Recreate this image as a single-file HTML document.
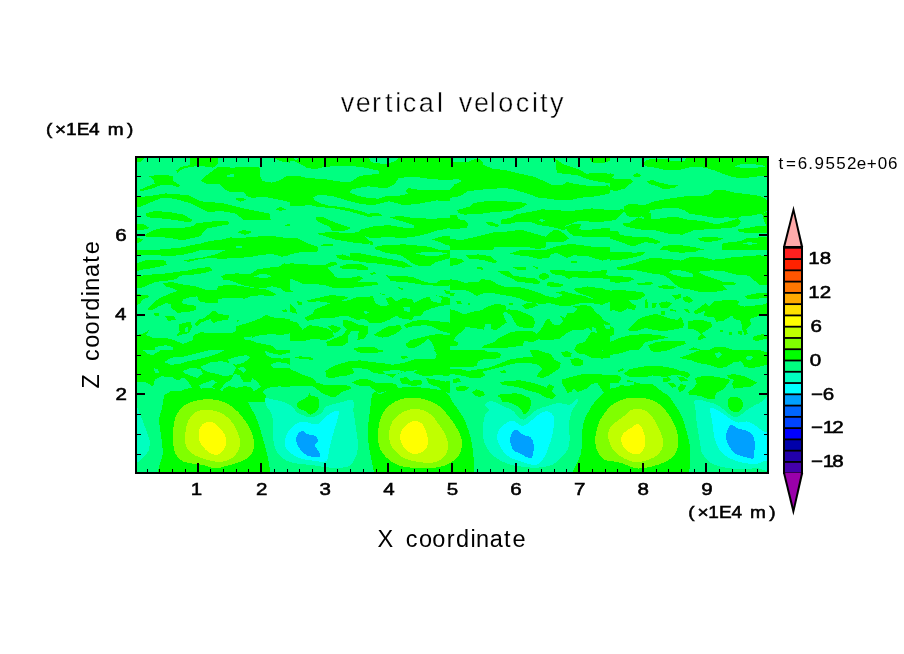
<!DOCTYPE html>
<html lang="en"><head><meta charset="utf-8"><title>vertical velocity</title>
<style>html,body{margin:0;padding:0;background:#fff;}body{width:904px;height:654px;overflow:hidden;}svg{display:block;}text{font-family:"Liberation Sans",sans-serif;fill:#000;}</style>
</head><body>
<svg width="904" height="654" viewBox="0 0 904 654">
<rect width="904" height="654" fill="#fff"/>
<defs><clipPath id="pc"><rect x="136" y="157" width="632" height="316"/></clipPath></defs>
<g clip-path="url(#pc)" shape-rendering="crispEdges">
<rect x="136" y="157" width="632" height="316" fill="#00ff80"/>
<defs><clipPath id="t1"><rect x="130" y="150" width="160" height="100"/></clipPath><clipPath id="t2"><rect x="290" y="150" width="160" height="100"/></clipPath><clipPath id="t3"><rect x="450" y="150" width="160" height="100"/></clipPath><clipPath id="t4"><rect x="610" y="150" width="160" height="100"/></clipPath><clipPath id="t5"><rect x="130" y="250" width="160" height="100"/></clipPath><clipPath id="t6"><rect x="290" y="250" width="160" height="100"/></clipPath><clipPath id="t7"><rect x="450" y="250" width="160" height="100"/></clipPath><clipPath id="t8"><rect x="610" y="250" width="160" height="100"/></clipPath><clipPath id="t9"><rect x="130" y="350" width="160" height="52"/></clipPath><clipPath id="t10"><rect x="290" y="350" width="160" height="52"/></clipPath><clipPath id="t11"><rect x="450" y="350" width="160" height="52"/></clipPath><clipPath id="t12"><rect x="610" y="350" width="160" height="52"/></clipPath></defs>
<g clip-path="url(#t1)">
<path fill="#00ff00" d="M136.7,158.0 145.0,158.0 140.6,161.5 136.7,162.7ZM190.2,158.0 218.5,158.0 217.6,164.2 213.2,167.7 200.8,165.9 191.1,166.8 183.1,168.6 176.9,173.0 176.4,170.4 181.3,166.8 190.2,165.0ZM200.8,181.0 205.2,176.5 213.2,170.4 218.5,166.8 232.7,167.7 243.3,166.8 253.9,166.8 260.1,167.7 260.1,176.5 262.7,181.0 271.6,182.7 280.4,180.1 285.8,176.5 290.0,175.7 290.0,202.2 282.2,200.4 264.5,196.9 252.1,197.8 246.8,196.0 243.3,191.6 229.1,191.6 225.6,189.8 220.3,184.5 206.1,183.6Z"/>
<path fill="#00ff80" d="M227.3,174.8 234.4,173.9 234.4,177.4 227.3,177.4Z"/>
<path fill="#00ff00" d="M273.4,158.0 290.0,158.0 290.0,162.7 282.2,161.7ZM234.4,198.7 240.6,197.8 246.8,199.2 240.6,201.7ZM149.5,176.5 156.5,174.8 172.5,175.7 173.4,181.0 180.4,185.4 177.8,187.2 170.7,184.5 160.1,185.4 153.0,188.1 140.6,191.6 139.7,189.8 147.7,186.3 154.8,183.6 153.0,179.2ZM136.7,196.9 147.7,196.4 165.4,193.4 188.4,195.1 200.8,201.3 222.0,203.1 243.3,208.4 257.4,211.1 269.8,213.7 270.7,219.9 243.3,219.9 236.2,213.7 222.0,211.1 207.9,211.9 200.8,208.4 190.2,203.1 174.2,198.7 161.9,197.8 151.2,202.2 140.6,206.6 136.7,207.5ZM145.0,213.7 154.8,211.1 168.9,211.9 183.1,214.6 192.8,219.9 190.2,222.6 174.2,219.9 158.3,218.1 147.7,217.3ZM136.7,223.5 144.2,224.3 149.5,227.9 144.2,229.6 136.7,230.5ZM196.4,223.5 207.9,221.7 228.2,220.8 229.1,224.3 218.5,226.1 206.1,228.8 202.6,233.2 200.8,235.8 196.4,237.3 190.2,238.5 183.1,240.3 169.8,238.0 156.5,236.7 147.7,237.1 145.0,235.8 147.7,233.2 153.0,230.5 161.9,227.9 183.1,227.9 193.7,226.1ZM237.1,232.3 243.3,230.0 253.0,231.8 245.0,235.0ZM136.7,237.6 143.3,239.4 138.8,242.9 136.7,243.8ZM140.6,250.2 156.5,249.8 169.8,248.6 183.1,247.3 193.7,244.7 200.8,243.5 208.2,241.3 222.9,239.4 230.9,237.3 236.2,238.5 253.9,236.7 271.6,235.8 290.0,238.5 290.0,250.2Z"/>
<path fill="#00ff80" d="M234.4,247.0 238.8,245.6 243.3,247.0 238.8,248.4Z"/>
<path fill="#00ff00" d="M275.1,209.3 280.4,207.0 286.6,209.3 280.4,211.1ZM283.1,225.2 290.0,224.0 290.0,226.5Z"/>
</g>
<g clip-path="url(#t2)">
<rect x="290" y="150" width="160" height="100" fill="#00ff00"/>
<path fill="#00ff80" d="M290.0,160.6 295.3,161.5 306.8,167.7 314.8,169.1 325.4,166.8 343.1,165.6 360.8,166.8 379.4,170.9 378.5,173.9 360.8,175.7 356.4,178.0 351.1,181.5 339.6,181.5 325.4,179.2 307.7,178.0 297.1,175.7 290.0,175.7ZM293.5,158.0 298.8,158.0 296.2,160.3ZM368.8,158.0 398.3,158.0 394.4,161.5 386.5,163.8 375.0,163.3 370.5,161.0ZM349.3,192.1 351.9,189.3 360.8,187.5 367.9,186.3 378.5,187.5 387.3,188.1 394.4,184.5 397.1,180.4 398.8,178.0 413.9,176.5 431.6,179.2 450.0,180.1 450.0,189.8 431.6,190.4 419.2,189.8 408.6,188.1 405.9,191.1 408.2,193.9 396.2,196.4 385.6,196.4 378.5,198.7 367.9,197.8 357.3,195.7ZM313.0,197.4 318.3,195.1 330.7,195.7 341.3,198.7 350.2,201.3 360.8,204.0 373.2,205.2 382.0,203.1 389.1,201.3 396.2,203.1 403.3,205.2 417.4,204.0 431.6,201.3 436.9,200.4 450.0,201.3 450.0,235.0 431.6,233.2 413.9,227.9 403.3,227.5 389.1,225.2 375.0,226.1 360.8,229.6 358.1,232.3 344.9,233.2 332.5,231.8 321.9,232.8 314.8,234.1 307.7,236.7 297.1,237.6 290.0,238.5 290.0,206.3 311.2,205.2 314.8,200.4Z"/>
<path fill="#00ff00" d="M311.2,205.2 316.5,206.6 334.2,208.4 348.4,211.1 360.8,214.6 367.9,216.9 382.0,215.5 378.5,212.8 367.9,213.7 360.8,211.1 343.1,207.0 328.9,205.8 320.1,203.1 314.8,200.4ZM316.2,216.9 321.9,216.5 330.7,220.8 343.1,225.2 351.1,227.9 348.4,229.3 343.1,231.1 332.5,231.4 329.3,226.5 320.4,222.9 315.7,219.7ZM389.1,217.3 399.7,215.8 413.9,218.1 431.6,218.7 450.0,218.1 450.0,227.9 442.2,229.6 431.6,233.2 422.7,235.8 413.9,227.9 413.9,225.2 403.3,221.7 394.4,219.0Z"/>
<path fill="#00ff80" d="M290.0,237.6 297.1,237.6 307.7,236.7 314.8,233.5 321.9,235.3 336.0,239.7 351.9,242.4 367.9,244.2 371.4,242.4 364.3,236.2 371.4,238.0 389.1,237.1 403.3,238.0 417.4,236.2 428.1,233.5 436.9,230.5 450.0,229.6 450.0,250.2 318.3,250.2 318.3,246.8 307.7,243.3 297.1,238.0Z"/>
<path fill="#00ff00" d="M374.6,248.2 375.3,247.0 384.2,244.9 396.5,244.9 403.6,244.2 412.5,245.2 424.9,246.1 433.7,247.9 440.4,250.2 378.5,250.2 375.3,249.3ZM431.9,239.6 437.3,237.8 443.5,236.0 450.0,235.5 450.0,245.8 446.1,244.9 440.8,242.6 435.5,240.8ZM370.0,240.8 372.7,242.0 372.7,244.9 370.0,244.9ZM320.1,244.7 332.5,243.8 332.5,245.9 321.9,246.5Z"/>
</g>
<g clip-path="url(#t3)">
<path fill="#00ff00" d="M450.0,158.0 451.8,158.0 453.5,161.5 467.7,162.4 473.0,159.7 478.3,158.5 481.9,161.0 483.6,165.0 492.5,168.6 506.6,170.4 520.8,173.9 533.2,176.5 543.8,181.0 552.7,185.4 563.3,184.5 566.8,181.9 573.9,183.6 584.5,185.4 596.9,186.3 607.5,185.4 610.0,187.2 610.0,193.4 602.2,195.1 591.6,196.9 579.2,197.8 570.4,200.4 559.7,200.4 549.1,198.7 538.5,197.8 529.6,194.2 520.8,191.6 511.9,188.9 503.1,188.1 485.4,189.3 467.7,191.1 460.6,196.0 450.0,197.8 450.0,189.8 454.4,184.5 462.4,181.0 457.1,178.7 450.0,180.1ZM551.8,158.8 556.2,161.0 556.2,168.6 557.1,173.0 565.0,173.9 577.4,175.1 586.6,178.8 595.1,181.0 605.8,182.6 610.0,182.9 610.0,173.9 600.4,172.7 586.6,173.7 579.9,170.0 573.9,167.7 570.4,166.8 563.3,164.2 558.0,160.6 554.4,158.0ZM589.8,158.0 610.0,158.0 610.0,161.0 602.2,163.3 591.6,162.4ZM457.1,210.2 469.5,206.6 473.0,203.1 485.4,201.3 503.1,201.3 520.8,202.2 527.9,204.0 520.8,208.4 510.2,211.1 494.2,211.9 478.3,214.1 464.2,214.6 458.0,212.8ZM450.0,215.5 457.1,215.1 458.0,219.0 465.9,220.8 468.1,224.3 466.8,227.9 457.1,228.8 450.0,228.8ZM485.0,221.7 490.7,221.7 499.6,225.2 497.8,227.0 488.9,225.2ZM500.4,220.8 503.1,219.0 510.2,218.1 515.5,214.6 524.3,212.8 535.0,211.1 542.0,209.3 556.2,210.2 570.4,211.1 584.5,209.3 591.6,208.4 602.2,209.3 610.0,210.2 610.0,220.8 602.2,221.7 591.6,221.7 579.2,220.8 573.9,222.6 565.0,226.1 566.8,228.8 563.3,230.5 556.2,227.9 547.3,226.1 538.5,225.2 533.2,222.6 524.3,221.7 517.3,221.7 508.4,224.3 501.3,224.3Z"/>
<path fill="#00ff80" d="M537.6,219.9 542.0,219.0 545.6,220.4 542.0,221.9Z"/>
<path fill="#00ff00" d="M565.0,227.0 573.9,223.5 581.0,224.3 579.2,228.8 584.5,230.5 596.9,228.8 610.0,227.9 610.0,236.7 598.7,236.7 584.5,236.7 573.9,235.8 568.6,232.3ZM450.0,238.5 460.6,240.3 476.5,236.7 494.2,232.3 508.4,231.4 520.8,229.6 533.2,233.2 545.6,236.7 552.7,230.5 558.0,229.6 563.3,233.2 568.6,238.5 563.3,242.0 545.6,242.0 545.6,247.3 538.5,249.1 524.3,246.5 508.4,246.5 494.2,246.5 493.4,250.0 450.0,250.0ZM545.6,250.0 556.2,246.5 570.4,243.8 584.5,245.6 596.9,247.3 610.0,246.5 610.0,250.0Z"/>
</g>
<g clip-path="url(#t4)">
<path fill="#00ff00" d="M642.7,164.2 645.4,160.6 652.5,158.5 668.4,158.5 670.2,161.5 684.3,161.0 686.1,158.0 766.6,158.0 766.6,176.2 756.9,176.5 744.5,178.0 733.9,177.4 723.3,173.9 714.4,170.4 705.6,167.7 695.0,166.8 687.9,167.7 677.3,170.4 666.6,170.4 656.0,167.7 647.2,166.8Z"/>
<path fill="#00ff80" d="M733.9,166.3 741.0,164.2 751.6,163.8 764.0,165.6 765.8,167.3 751.6,167.7 741.0,167.7Z"/>
<path fill="#00ff00" d="M610.0,173.0 614.4,174.8 611.8,178.3 620.6,179.2 631.2,179.2 633.0,181.9 627.7,185.4 625.9,188.1 617.1,190.7 610.0,190.4ZM633.0,174.8 636.5,173.0 641.0,174.8 639.2,177.4 634.8,177.4ZM646.3,181.0 652.5,180.1 659.6,182.7 668.4,184.5 678.1,185.4 673.7,188.1 663.1,189.3 657.8,186.3 650.7,184.5ZM624.2,206.6 629.5,204.0 645.4,204.9 654.2,201.3 668.4,198.7 684.3,196.4 698.5,196.4 710.9,194.2 714.4,189.8 723.3,189.8 733.9,192.5 748.1,194.2 760.4,196.0 766.6,199.6 766.6,211.1 762.2,213.7 751.6,215.5 741.0,216.4 737.4,218.1 726.8,217.3 716.2,218.1 702.0,215.5 689.6,213.7 684.3,210.2 677.3,208.1 663.1,208.4 650.7,210.2 648.1,213.7 649.8,218.1 641.9,216.4 634.8,217.3 627.7,216.4 624.2,211.1ZM622.4,222.6 629.5,222.6 638.3,217.3 645.4,219.9 656.0,219.0 668.4,217.3 677.3,216.9 687.9,219.9 702.0,220.8 716.2,224.3 723.3,222.6 733.9,219.9 737.4,218.1 741.0,221.7 737.4,226.1 730.4,227.9 716.2,228.8 702.0,229.6 693.2,230.5 682.6,234.6 670.2,234.1 656.0,230.5 641.9,229.6 631.2,227.9 624.2,226.1ZM643.6,213.7 650.7,212.8 650.7,219.9 643.6,219.9ZM737.4,229.6 748.1,227.9 756.9,226.1 766.6,226.5 766.6,233.2 756.9,233.2 746.3,232.8 739.2,231.8ZM762.2,213.7 766.6,211.9 766.6,226.5 764.0,220.8ZM610.0,210.2 622.4,209.3 624.2,211.1 615.3,219.9 610.0,220.8ZM610.0,230.5 617.1,230.5 620.6,235.0 633.0,236.7 650.7,237.6 661.3,242.0 656.0,243.8 645.4,242.0 633.0,246.5 620.6,242.0 610.0,238.5ZM659.6,250.0 663.1,246.5 671.9,244.7 684.3,245.6 695.0,247.3 705.6,250.0ZM698.5,238.5 705.6,236.7 716.2,237.1 723.3,238.5 716.2,241.2 705.6,242.0 700.3,240.6ZM721.5,243.8 730.4,242.0 741.0,241.2 746.3,238.5 756.9,237.6 766.6,236.7 766.6,250.0 721.5,250.0Z"/>
<path fill="#00ff80" d="M742.7,243.5 749.8,242.0 756.9,243.5 749.8,244.9Z"/>
</g>
<g clip-path="url(#t5)">
<path fill="#00ff00" d="M136.7,250.0 290.0,250.0 290.0,255.0 282.2,256.7 271.6,253.9 261.0,255.0 250.4,257.1 236.2,258.0 222.0,258.8 207.9,258.0 197.3,259.7 188.4,262.0 181.3,259.7 174.2,256.2 156.5,255.3 140.6,255.3 136.7,256.2Z"/>
<path fill="#00ff80" d="M173.7,255.8 183.1,254.6 192.3,252.7 199.0,250.5 209.6,250.0 226.8,250.0 222.9,251.2 215.0,254.6 204.3,257.3 192.3,258.8 187.0,260.1 180.4,260.6 175.8,258.0Z"/>
<path fill="#00ff00" d="M136.7,263.3 147.7,259.7 165.4,260.6 166.8,265.0 158.3,266.8 149.5,268.6 140.6,269.8 136.7,271.2ZM136.7,276.5 147.7,274.8 161.9,273.9 176.0,272.1 188.4,270.4 200.8,267.7 209.6,267.3 212.3,270.4 204.3,273.0 191.9,274.8 179.6,275.7 176.0,279.2 165.4,281.0 154.8,281.9 147.7,285.4 140.6,288.1 136.7,288.1ZM221.2,276.5 225.6,274.4 236.2,273.4 250.4,273.9 257.4,269.5 268.1,267.7 278.7,266.8 284.0,263.3 290.0,264.2 290.0,291.6 285.8,292.5 280.4,288.1 271.6,286.3 264.5,288.1 253.9,287.5 243.3,285.4 236.2,282.7 229.1,280.1 223.8,280.1Z"/>
<path fill="#00ff80" d="M253.9,276.5 261.0,273.9 269.8,274.8 271.6,276.9 262.7,278.3Z"/>
<path fill="#00ff00" d="M162.7,283.6 170.7,281.9 183.1,284.5 195.5,286.3 206.1,289.8 216.7,289.8 218.5,286.3 229.1,284.5 243.3,286.3 253.9,288.1 264.5,288.9 271.6,291.6 276.9,294.2 271.6,296.4 261.0,295.1 250.4,296.4 245.0,298.7 236.2,297.8 218.5,298.7 217.6,303.1 207.9,303.1 199.0,301.3 197.3,296.4 190.2,296.9 183.1,299.6 181.3,303.1 188.4,304.9 196.4,305.8 195.5,310.2 188.4,311.9 177.8,312.8 171.6,308.4 170.7,304.0 165.4,303.1 158.3,306.6 151.2,310.2 147.7,309.3 153.0,303.1 160.1,297.8 170.7,293.4 177.8,290.7 172.5,288.1 165.4,286.3ZM136.7,294.2 147.7,295.1 149.5,296.9 142.4,299.6 140.6,303.1 136.7,304.9ZM165.4,316.4 174.2,315.8 176.0,319.9 168.1,320.8ZM153.0,313.7 158.3,312.8 159.2,315.5 154.8,315.8ZM194.6,324.3 198.1,319.9 204.3,318.1 210.5,312.8 214.1,310.2 218.5,313.7 229.1,315.5 228.2,319.9 218.5,320.8 213.2,323.5 210.5,319.0 207.9,319.9 200.8,322.6 197.3,326.1ZM178.7,324.3 184.9,322.6 191.1,321.7 191.9,327.9 188.4,333.2 183.1,334.1 176.0,336.7 179.6,331.4Z"/>
<path fill="#00ff80" d="M185.2,327.9 188.1,327.0 187.7,332.3 185.2,332.3Z"/>
<path fill="#00ff00" d="M136.7,335.0 144.2,333.2 149.5,329.6 145.9,335.0 154.8,338.5 165.4,337.6 174.2,340.3 183.1,343.8 192.8,340.3 193.7,335.0 200.8,332.3 213.2,333.2 225.6,333.2 235.3,332.3 236.2,326.1 243.3,324.3 253.9,320.8 261.0,318.1 266.3,314.6 271.6,317.3 280.4,318.1 290.0,319.0 290.0,333.2 282.2,335.0 271.6,334.1 261.0,335.0 253.9,336.7 250.4,340.3 257.4,342.9 271.6,345.6 276.9,350.0 136.7,350.0Z"/>
<path fill="#00ff80" d="M243.3,337.1 252.1,336.4 252.1,340.3 245.0,340.3ZM154.8,347.0 165.4,345.2 172.5,347.0 172.5,350.0 154.8,350.0Z"/>
<path fill="#00ff00" d="M282.2,310.2 285.8,309.3 287.5,311.9 283.1,311.9ZM236.2,319.9 238.8,319.9 238.0,322.6Z"/>
</g>
<g clip-path="url(#t6)">
<path fill="#00ff00" d="M290.0,263.3 300.6,263.8 313.0,265.0 325.4,265.0 330.7,262.4 336.0,262.0 337.8,264.2 327.2,267.7 330.7,271.2 336.0,277.4 348.4,278.3 359.0,276.2 363.5,278.3 357.3,281.9 367.9,281.5 376.7,281.9 378.5,284.5 366.1,286.3 348.4,288.1 334.2,288.1 325.4,285.4 313.0,283.6 304.2,284.5 298.8,281.9 290.0,278.3ZM336.0,255.3 343.1,254.4 350.2,257.1 350.2,252.7 360.8,253.5 375.0,256.2 389.1,258.8 403.3,261.5 412.1,266.8 403.3,267.7 389.1,265.0 375.0,263.3 364.3,262.4 353.7,260.6 343.1,259.7 337.8,258.0ZM378.5,250.0 385.9,252.8 400.1,255.0 405.4,258.1 411.6,262.6 416.0,265.2 423.1,266.5 431.1,265.6 434.6,262.6 440.8,260.8 450.0,258.1 450.0,250.0Z"/>
<path fill="#00ff80" d="M416.0,253.5 424.5,251.9 438.7,251.9 447.0,253.5 438.7,255.5 424.5,255.5Z"/>
<path fill="#00ff00" d="M290.0,250.0 318.3,250.0 316.5,251.8 300.6,252.1 290.0,254.4ZM338.7,266.8 346.6,264.2 360.8,263.8 367.9,267.7 367.9,270.4 357.3,269.5 343.1,269.1ZM369.6,273.0 375.0,272.1 376.7,273.9 371.4,274.8ZM385.6,274.8 390.9,276.5 403.3,275.7 413.9,277.4 424.5,281.9 435.1,283.6 440.4,280.1 450.0,280.1 450.0,285.4 440.4,286.3 431.6,285.4 421.0,284.5 410.4,282.7 399.7,281.9 390.9,281.0ZM306.8,300.4 318.3,297.8 330.7,295.1 343.1,296.0 348.4,297.8 339.6,301.3 348.4,300.4 357.3,296.9 373.2,296.4 375.0,303.1 382.0,306.6 389.1,304.9 385.6,298.7 390.9,296.9 396.2,301.3 403.3,297.8 412.1,299.6 413.9,303.1 424.5,297.8 429.8,296.9 431.6,301.3 440.4,303.1 442.2,297.8 435.1,295.1 442.2,296.4 450.0,297.8 450.0,304.9 440.4,305.8 431.6,308.4 424.5,311.1 421.0,315.5 413.9,316.4 412.1,319.9 399.7,318.1 396.2,315.5 389.1,319.9 382.0,322.6 369.6,322.6 364.3,319.0 357.3,319.9 348.4,316.4 339.6,316.4 332.5,318.1 321.9,318.1 307.7,320.8 304.2,318.1 313.0,313.7 314.8,309.3 321.9,306.6 330.7,303.1 318.3,301.3 309.5,302.2Z"/>
<path fill="#00ff80" d="M363.5,311.9 366.1,310.7 368.8,312.3 366.1,314.6ZM403.3,307.5 410.4,306.6 409.5,311.9 404.2,311.1Z"/>
<path fill="#00ff00" d="M290.0,303.1 295.3,308.4 297.1,313.7 290.0,311.9ZM297.1,301.3 301.5,301.7 302.4,304.9 298.0,305.2ZM290.0,320.8 297.1,322.6 302.4,329.6 309.5,325.2 316.5,326.1 325.4,327.9 332.5,331.4 334.2,336.7 325.4,340.3 313.0,338.5 304.2,341.2 290.0,341.2ZM343.1,319.9 350.2,320.8 357.3,324.3 367.9,326.1 367.9,333.2 364.3,338.5 357.3,340.3 358.1,335.0 359.0,330.5 351.9,330.5 348.4,335.0 348.4,342.0 343.1,345.6 327.2,345.6 326.3,342.0 334.2,338.5 343.1,335.0 346.6,329.6 343.1,326.1ZM328.1,326.1 332.5,325.2 341.3,327.9 337.8,331.4 334.2,333.2ZM373.2,335.0 382.0,329.6 389.1,326.1 399.7,325.2 402.4,328.8 396.2,333.2 389.1,336.7 382.0,337.6ZM403.3,325.2 413.9,320.8 424.5,319.9 431.6,320.8 442.2,321.7 450.0,322.6 450.0,333.2 442.2,331.4 431.6,326.1 424.5,325.2 413.9,326.1 406.8,327.9ZM405.9,343.8 410.4,340.3 417.4,338.5 424.5,336.7 431.6,335.0 436.9,334.1 450.0,335.0 450.0,350.0 435.1,350.0 431.6,342.0 428.1,338.5 424.5,342.0 419.2,345.6 413.9,348.2 406.8,347.3ZM353.7,348.2 364.3,346.5 375.0,347.3 378.5,350.0 353.7,350.0ZM290.0,289.8 293.5,291.6 290.0,292.5ZM398.0,287.2 403.3,288.1 403.3,290.4 398.8,288.9ZM379.4,293.4 385.6,293.9 383.8,295.1ZM444.0,289.8 450.0,291.6 450.0,294.2 445.8,293.4Z"/>
</g>
<g clip-path="url(#t7)">
<path fill="#00ff00" d="M450.0,258.0 460.6,258.8 464.2,261.5 457.1,265.0 450.0,265.9ZM465.9,255.3 478.3,254.4 490.7,256.2 497.8,262.4 492.5,262.7 481.9,259.7 469.5,258.8ZM510.2,253.5 520.8,250.0 610.0,250.0 610.0,258.8 602.2,260.6 588.1,256.2 573.9,255.3 566.8,258.0 556.2,252.7 550.9,254.4 549.1,258.0 538.5,258.8 527.9,256.2 517.3,255.3ZM476.5,266.8 483.6,267.7 482.7,269.8 476.5,268.6ZM511.1,266.8 526.1,267.3 526.1,270.4 517.3,269.8ZM532.3,266.3 538.5,266.8 537.6,269.1ZM571.2,261.0 577.4,261.0 577.4,262.7 571.2,262.7ZM497.8,271.2 508.4,270.9 513.7,275.7 524.3,277.4 535.0,278.3 540.3,281.9 538.5,284.5 527.9,282.7 517.3,281.9 511.9,278.3 503.1,274.8ZM539.4,274.8 542.9,273.0 548.2,273.9 549.1,277.4 543.8,280.1 539.4,278.3ZM549.1,269.5 563.3,270.4 573.9,271.2 591.6,271.6 602.2,270.4 607.5,270.4 605.8,274.8 610.0,276.5 610.0,279.2 600.4,278.3 591.6,278.3 581.0,278.3 573.9,276.5 568.6,279.2 563.3,275.7 556.2,274.8 550.9,273.0ZM450.0,279.2 457.1,280.1 464.2,282.7 478.3,281.9 481.9,279.2 490.7,280.1 497.8,284.5 506.6,287.2 520.8,287.5 527.9,289.3 538.5,292.5 545.6,296.0 556.2,297.8 563.3,295.1 556.2,292.5 563.3,291.1 573.9,294.2 584.5,296.0 591.6,298.7 600.4,300.4 605.8,303.1 602.2,304.9 591.6,303.1 581.0,303.1 573.9,304.9 565.0,306.6 556.2,304.9 549.1,303.1 542.0,304.0 535.0,303.1 526.1,301.3 520.8,298.7 511.9,296.4 503.1,295.1 494.2,293.4 485.4,292.5 476.5,296.0 471.2,292.5 464.2,289.8 457.1,289.8 450.0,289.8ZM546.5,282.7 550.9,281.9 563.3,284.5 563.3,286.3 552.7,287.2 546.5,285.4ZM573.9,289.3 586.3,286.6 595.1,288.2 605.8,290.5 610.0,290.0 610.0,301.3 605.8,303.5 596.9,300.4 587.5,296.0 579.9,293.5 575.3,291.2ZM573.9,288.1 581.0,287.5 584.5,289.8 577.4,290.4ZM586.3,286.3 591.6,287.2 602.2,288.1 605.8,289.8 602.2,291.6 591.6,289.8ZM595.1,292.5 600.4,292.5 602.2,295.1 596.9,295.1ZM450.0,309.3 457.1,311.1 464.2,314.6 471.2,311.9 481.9,310.2 487.2,306.6 496.0,304.0 504.9,304.9 506.6,309.3 503.1,313.7 504.9,319.0 506.6,322.6 501.3,326.1 496.0,330.5 490.7,328.8 491.6,323.5 485.4,324.3 483.6,329.6 473.0,327.9 465.9,327.0 462.4,331.4 457.1,335.0 453.5,340.3 458.8,342.9 457.1,345.6 450.0,345.6ZM508.4,309.3 517.3,310.2 524.3,312.8 533.2,317.3 535.0,322.6 533.2,327.9 524.3,327.9 517.3,326.1 513.7,320.8 511.1,315.5 504.9,311.1ZM521.7,305.8 527.9,302.7 535.0,303.1 538.5,305.2 533.2,307.5 526.1,309.3ZM545.6,320.8 549.1,318.1 552.7,324.3 559.7,325.2 563.3,320.8 559.7,315.5 565.0,318.1 567.7,312.8 573.9,312.8 577.4,308.4 572.1,306.6 584.5,304.9 591.6,306.6 595.1,311.9 600.4,315.5 604.0,320.8 610.0,323.5 610.0,350.0 573.9,350.0 577.4,343.8 584.5,342.0 588.1,336.7 591.6,331.4 588.1,327.9 581.0,330.5 573.9,329.6 566.8,333.2 559.7,338.5 549.1,340.3 538.5,339.4 533.2,342.0 524.3,341.2 522.6,345.6 503.1,348.2 481.9,348.2 483.6,345.6 494.2,342.0 499.6,337.6 510.2,332.3 520.8,330.5 533.2,331.4 536.7,334.1 542.0,327.9 543.8,324.3Z"/>
<path fill="#00ff80" d="M591.6,327.0 596.0,327.9 596.9,333.2 592.5,331.8ZM604.0,324.3 610.0,325.2 610.0,329.6 605.8,328.8Z"/>
<path fill="#00ff00" d="M456.2,301.3 460.6,301.3 462.4,304.0 457.1,304.0ZM467.7,303.1 469.8,303.1 469.8,304.9 467.7,304.9ZM509.3,303.1 512.8,303.1 512.8,304.9 509.3,304.9ZM450.0,293.4 455.3,292.5 453.5,296.0 450.0,296.4Z"/>
</g>
<g clip-path="url(#t8)">
<path fill="#00ff00" d="M610.0,251.8 620.6,251.8 634.8,252.7 645.4,251.8 641.9,255.3 631.2,258.0 620.6,259.7 610.0,260.6ZM666.6,250.0 698.5,250.0 695.0,252.1 680.8,252.7 670.2,251.8ZM616.2,267.7 627.7,265.0 641.9,260.6 650.7,258.0 668.4,258.8 680.8,260.6 689.6,257.1 702.0,257.1 712.7,259.7 723.3,258.8 733.9,257.1 748.1,256.2 758.7,255.3 766.6,256.2 766.6,284.5 760.4,285.4 755.1,281.0 749.8,276.5 744.5,274.8 737.4,274.8 730.4,273.0 723.3,271.2 712.7,270.4 702.0,270.9 698.5,272.1 705.6,275.7 716.2,279.2 723.3,281.9 737.4,282.7 733.9,285.4 723.3,285.4 726.8,289.8 719.7,291.1 709.1,292.5 698.5,291.6 691.4,289.8 680.8,288.1 673.7,283.6 668.4,278.3 663.1,274.8 654.2,273.9 645.4,272.1 636.5,270.4 627.7,269.5 618.8,269.8Z"/>
<path fill="#00ff80" d="M668.4,272.1 673.7,269.8 684.3,270.9 693.2,273.9 693.2,276.5 680.8,276.5 673.7,274.8Z"/>
<path fill="#00ff00" d="M610.0,276.5 620.6,276.2 631.2,277.4 634.8,279.2 627.7,281.9 617.1,282.7 610.0,281.9ZM636.5,283.6 647.2,282.2 654.2,282.7 650.7,284.5 640.1,285.4ZM657.8,286.3 664.9,285.0 673.7,286.3 677.3,288.1 668.4,289.3 659.6,288.1ZM610.0,290.7 618.8,289.8 631.2,291.1 642.7,292.1 645.4,295.1 641.0,298.7 634.8,300.4 627.7,299.6 631.2,303.1 636.5,305.8 634.8,310.2 627.7,308.4 620.6,312.3 613.5,310.2 610.0,311.1ZM647.2,298.7 648.1,308.4 645.4,308.4 644.5,300.4ZM651.6,303.1 656.9,303.1 655.1,308.4 652.5,307.5ZM658.7,303.1 666.6,301.3 671.9,303.1 668.4,307.5 661.3,308.4ZM671.9,295.1 680.8,294.2 680.8,297.8 675.5,299.6ZM682.6,297.8 687.9,296.0 693.2,300.4 689.6,303.1 684.3,301.3ZM661.3,311.1 664.9,311.1 664.9,314.6 661.3,314.6ZM670.2,309.3 676.4,309.8 676.4,311.6 670.2,311.1ZM683.5,308.4 687.9,309.3 690.5,313.7 686.1,311.9ZM694.1,311.1 698.5,308.4 705.6,303.1 709.1,306.6 714.4,301.3 723.3,300.4 733.9,299.6 739.2,301.3 737.4,304.9 744.5,306.6 751.6,305.8 762.2,304.9 766.6,303.1 766.6,313.7 760.4,315.5 751.6,318.1 748.1,322.6 741.0,320.8 733.9,319.0 732.1,315.5 723.3,320.8 716.2,321.7 714.4,317.3 709.1,317.3 703.8,315.5 705.6,310.2 700.3,312.8 695.0,314.6ZM744.5,296.4 751.6,294.2 762.2,292.5 766.6,293.4 766.6,297.8 756.9,298.7 748.1,299.2ZM627.7,329.6 633.0,324.3 638.3,319.0 645.4,316.4 656.0,313.7 661.3,315.5 668.4,318.1 677.3,319.9 680.8,316.4 684.3,324.3 682.6,327.9 673.7,329.6 663.1,331.4 652.5,329.6 645.4,327.9 638.3,330.5 631.2,331.4ZM610.0,326.1 613.5,327.9 613.5,335.0 610.0,336.7ZM687.9,320.8 702.0,319.9 710.9,322.6 712.7,326.1 709.1,328.8 702.0,333.2 705.6,337.6 698.5,340.3 697.6,337.6 701.2,334.1 695.0,329.6 687.9,328.8ZM741.0,319.0 749.8,320.8 751.6,324.3 746.3,329.6 748.1,334.1 744.5,335.0 741.9,327.9ZM753.4,336.7 762.2,334.1 766.6,335.0 766.6,338.5 756.9,341.2 752.5,339.4ZM738.3,330.5 741.9,330.5 741.9,335.0 738.3,334.1ZM728.6,332.3 732.1,332.3 732.1,335.0 728.6,335.0ZM719.7,329.6 723.3,329.6 723.3,331.8 719.7,331.8ZM610.0,342.0 620.6,337.6 631.2,335.0 645.4,334.1 659.6,335.0 668.4,337.6 654.2,340.3 645.4,342.0 641.9,346.5 638.3,350.0 610.0,350.0ZM648.1,345.6 656.0,342.0 670.2,340.6 684.3,341.2 686.1,343.8 677.3,346.5 668.4,350.0 650.7,350.0ZM709.1,350.0 716.2,346.5 725.0,347.3 733.9,350.0ZM687.9,350.0 693.2,347.3 702.0,350.0Z"/>
</g>
<g clip-path="url(#t9)">
<rect x="130" y="350" width="160" height="52" fill="#00ff00"/>
<path fill="#00ff80" d="M136.7,345.3 144.2,344.4 151.2,346.2 156.5,345.3 163.6,344.4 165.4,348.0 160.1,350.6 153.0,355.0 147.7,354.2 144.2,350.6 136.7,349.7ZM164.5,362.1 170.7,357.7 183.1,356.8 190.2,355.0 200.8,352.4 211.4,349.7 222.0,347.1 229.1,346.2 225.6,349.7 218.5,353.3 207.9,356.8 197.3,359.5 188.4,361.2 179.6,363.9 170.7,364.8ZM174.2,340.0 191.9,340.0 188.4,343.5 181.3,344.4 176.0,342.7ZM264.5,350.6 271.6,353.3 280.4,355.0 290.0,352.4 290.0,357.7 282.2,358.6 271.6,357.7 266.3,355.0ZM228.2,359.5 236.2,356.8 246.8,355.0 250.4,357.7 243.3,363.0 236.2,364.8 229.1,363.0ZM200.8,366.5 211.4,362.1 222.0,361.2 232.7,363.9 236.2,368.3 232.7,374.5 225.6,376.3 215.0,373.6 207.9,371.9 202.6,369.2ZM183.1,371.0 191.9,367.4 200.8,369.2 202.6,373.6 197.3,378.1 190.2,375.4 184.9,373.6ZM153.9,368.3 157.4,369.2 159.2,372.7 154.8,372.7ZM136.7,382.5 144.2,381.6 153.0,386.4 154.8,379.8 161.9,376.3 172.5,377.2 177.8,380.7 183.1,377.2 188.4,381.6 191.9,387.8 183.1,389.6 179.6,393.1 176.0,391.3 170.7,391.3 164.5,394.9 162.7,403.7 136.7,403.7ZM199.0,385.1 206.1,382.5 213.2,379.8 216.7,382.5 211.4,386.4 215.0,388.7 206.1,387.8 200.8,388.7ZM225.6,382.5 230.9,379.8 234.4,373.6 239.7,375.4 243.3,381.6 250.4,382.5 252.1,378.1 257.4,381.6 261.0,386.9 253.9,391.3 252.1,387.8 245.0,386.0 236.2,387.8 229.1,386.0 223.8,388.7 222.0,393.1 220.3,389.6ZM262.7,391.3 268.1,387.8 278.7,386.4 290.0,386.9 290.0,403.7 264.5,403.7 266.3,396.6ZM238.0,368.3 243.3,366.5 246.8,370.1 243.3,372.7ZM269.8,364.8 276.9,362.1 285.8,363.0 290.0,364.8 290.0,368.3 280.4,368.3 273.4,368.0Z"/>
</g>
<g clip-path="url(#t10)">
<path fill="#00ff00" d="M325.4,340.0 348.4,340.0 346.6,343.5 336.0,345.3 327.2,344.4ZM354.6,348.8 360.8,347.1 371.4,346.2 382.0,348.8 382.9,351.5 375.0,353.3 364.3,353.3 357.3,352.0ZM293.5,357.3 300.6,356.3 313.0,357.7 313.0,359.8 302.4,359.1ZM399.7,356.8 405.0,355.6 408.6,357.3 403.3,359.1ZM405.9,345.3 410.4,340.0 450.0,340.0 450.0,375.4 445.8,376.3 438.7,374.5 428.1,376.3 421.0,375.4 413.9,372.7 417.4,370.1 410.4,371.0 403.3,371.9 396.2,374.5 392.7,378.1 385.6,374.5 378.5,373.6 373.2,372.7 367.9,369.2 360.8,368.3 351.9,368.3 354.6,372.7 348.4,375.4 339.6,376.3 332.5,378.1 326.3,377.2 325.4,371.0 330.7,367.4 339.6,363.9 350.2,360.9 360.8,360.4 371.4,362.1 382.0,363.0 392.7,364.8 403.3,363.0 413.9,359.5 424.5,358.6 435.1,359.5 436.9,354.2 433.4,348.8 424.5,347.1 417.4,344.4 412.1,348.0Z"/>
<path fill="#00ff80" d="M382.9,371.5 396.2,369.7 404.2,371.5 396.2,374.0 385.6,374.0Z"/>
<path fill="#00ff00" d="M290.0,369.2 297.1,371.9 304.2,375.4 313.0,378.1 316.5,382.5 325.4,385.1 339.6,385.1 350.2,385.7 351.1,388.7 343.1,391.3 336.0,396.6 330.7,396.6 321.9,393.1 316.5,388.7 313.0,386.4 300.6,385.7 290.0,385.7ZM351.9,382.5 360.8,378.6 367.9,379.3 375.0,382.5 385.6,382.5 396.2,383.9 398.0,387.8 389.1,390.4 378.5,393.1 369.6,386.4 360.8,386.4ZM399.7,378.1 406.8,377.2 410.4,380.7 421.0,379.8 422.7,384.2 413.9,386.4 406.8,384.2 401.5,383.4ZM426.3,378.1 436.9,379.8 445.8,381.6 450.0,380.7 450.0,393.1 442.2,391.3 438.7,386.9 431.6,385.1 428.1,382.5Z"/>
</g>
<g clip-path="url(#t11)">
<path fill="#00ff00" d="M450.0,340.0 494.2,340.0 490.7,342.7 483.6,345.3 481.9,348.8 488.9,352.4 496.0,351.5 501.3,354.2 499.6,357.7 492.5,359.5 485.4,358.6 478.3,361.2 476.5,365.7 471.2,367.4 460.6,366.5 450.0,366.5ZM473.0,370.1 485.4,368.3 492.5,366.5 503.1,362.1 510.2,359.5 520.8,357.7 533.2,356.8 529.6,350.6 533.2,348.8 542.0,351.5 550.9,354.2 554.4,359.5 560.6,363.0 559.7,368.3 554.4,371.9 549.1,375.4 542.0,378.1 536.7,376.3 538.5,372.7 542.9,369.2 538.5,364.8 527.9,362.7 517.3,363.0 508.4,364.8 499.6,367.4 492.5,369.2 481.9,371.9 485.4,375.4 480.1,378.1 471.2,378.1 465.9,376.3 460.6,375.4 450.0,373.6 450.0,369.2 460.6,369.2 467.7,371.0ZM524.3,340.0 538.5,340.0 535.0,342.1 527.9,342.7ZM573.9,348.8 577.4,343.5 584.5,342.7 591.6,344.4 595.1,348.8 602.2,350.6 610.0,348.8 610.0,357.7 602.2,358.6 591.6,357.7 584.5,354.2 577.4,353.3ZM560.6,352.4 566.8,351.0 572.1,353.3 570.4,356.8 565.0,357.3ZM570.4,359.5 577.4,357.7 582.7,360.4 582.7,364.8 577.4,366.5 572.1,364.8ZM499.6,371.0 504.9,370.1 506.6,372.7 501.3,373.3ZM452.7,378.9 458.8,378.1 460.6,381.6 453.5,383.4ZM455.3,386.9 464.2,386.0 469.5,387.8 464.2,391.3 457.1,391.3ZM472.1,392.2 476.5,389.2 482.7,391.3 485.4,394.9 480.1,397.0 474.8,395.8ZM499.6,382.5 508.4,380.7 520.8,380.4 531.4,382.5 542.0,385.7 546.5,387.8 549.1,384.2 554.4,386.9 551.8,391.3 556.2,395.8 552.7,399.3 545.6,397.5 538.5,393.1 527.9,390.4 520.8,387.8 511.9,386.0 503.1,385.1ZM497.8,395.8 506.6,394.9 513.7,393.1 520.8,394.0 527.9,397.5 530.5,401.9 529.6,408.1 503.1,408.1 501.3,399.3ZM561.5,379.8 570.4,377.2 581.0,374.5 591.6,373.6 602.2,374.5 610.0,374.5 610.0,393.1 605.8,394.9 600.4,387.8 596.9,382.5 591.6,384.2 586.3,388.7 577.4,392.2 573.9,387.8 572.1,391.3 567.7,393.1 565.0,387.8 562.4,384.2Z"/>
</g>
<g clip-path="url(#t12)">
<path fill="#00ff00" d="M610.0,340.0 647.2,340.0 648.1,343.5 641.9,347.1 631.2,349.7 620.6,353.3 610.0,355.0ZM648.1,346.2 656.0,341.8 670.2,340.9 684.3,341.8 686.1,344.4 677.3,348.8 666.6,350.6 656.0,352.4 650.7,350.6ZM679.9,357.7 687.9,355.0 698.5,350.6 709.1,348.8 716.2,346.2 725.0,348.0 737.4,349.7 748.1,348.8 758.7,349.7 766.6,352.4 766.6,364.8 760.4,366.5 751.6,368.3 744.5,366.5 741.0,361.2 733.9,362.1 726.8,366.5 719.7,368.3 709.1,364.8 698.5,363.0 691.4,360.4 684.3,359.1Z"/>
<path fill="#00ff80" d="M715.3,353.3 719.7,352.0 721.9,355.0 718.8,358.1 715.7,356.8ZM746.3,356.8 750.7,355.6 753.4,357.7 749.8,360.4 746.6,359.5Z"/>
<path fill="#00ff00" d="M624.2,373.6 629.5,369.2 638.3,367.4 648.9,365.7 663.1,366.5 673.7,368.3 680.8,371.0 687.9,371.9 690.5,375.4 687.9,378.1 680.8,375.4 673.7,374.5 666.6,377.2 659.6,376.3 652.5,375.4 645.4,377.2 634.8,377.2 627.7,376.3ZM610.0,375.4 617.1,374.5 621.5,378.1 618.8,382.5 610.0,382.5ZM617.1,371.0 622.4,368.3 624.2,370.1 618.8,371.9ZM610.0,391.3 617.1,387.8 620.6,385.1 627.7,386.0 634.8,384.2 633.0,381.6 625.9,382.5 627.7,379.8 641.9,384.2 652.5,384.2 659.6,389.6 663.1,393.1 666.6,403.7 610.0,403.7ZM663.1,378.1 668.4,377.2 671.1,379.8 666.6,382.5 663.1,381.6ZM668.4,383.4 673.7,382.5 676.4,386.4 671.9,387.8ZM677.3,376.3 684.3,377.5 687.9,380.7 680.8,381.6ZM677.3,387.8 680.8,384.2 686.1,385.1 684.3,389.6 679.9,392.2ZM687.9,392.2 693.2,388.7 696.7,383.4 695.0,378.1 702.0,376.3 712.7,376.3 723.3,378.1 730.4,379.8 726.8,385.1 723.3,389.6 716.2,393.1 714.4,399.3 709.1,399.3 702.0,396.6 695.0,395.2 689.6,394.9ZM726.8,375.4 733.9,374.0 744.5,376.3 751.6,379.8 756.9,382.5 751.6,386.4 741.0,387.8 733.9,388.7 732.1,384.2 733.9,379.8 728.6,378.1Z"/>
</g>
<path fill="#00ff00" d="M157.4,473.8C157.9,472.0 159.2,466.4 160.1,463.2C161.0,459.9 162.4,457.9 162.7,454.3C163.0,450.8 162.3,446.1 161.9,441.9C161.4,437.8 160.5,433.4 160.1,429.6C159.6,425.7 158.9,422.5 159.2,418.9C159.5,415.4 161.0,412.2 161.9,408.3C162.7,404.5 163.0,398.6 164.5,395.9C166.0,393.3 167.6,393.3 170.7,392.4C173.8,391.5 178.1,391.2 183.1,390.6C188.1,390.0 194.9,388.8 200.8,388.8C206.7,388.8 213.2,390.0 218.5,390.6C223.8,391.2 228.5,391.7 232.7,392.4C236.8,393.1 240.3,392.7 243.3,395.0C246.2,397.4 248.0,402.3 250.4,406.5C252.7,410.8 255.5,416.0 257.4,420.7C259.4,425.4 260.4,429.9 261.9,434.9C263.3,439.9 265.1,446.1 266.3,450.8C267.5,455.5 268.2,459.4 268.9,463.2C269.7,467.0 270.4,472.0 270.7,473.8Z"/>
<path fill="#00ff00" d="M374.5,473.8C373.9,471.2 372.0,463.2 371.0,457.9C369.9,452.6 368.8,447.6 368.3,441.9C367.9,436.3 368.0,429.6 368.3,424.2C368.6,418.9 369.5,414.8 370.1,410.1C370.7,405.4 371.0,398.9 371.9,395.9C372.7,392.9 374.1,392.3 375.4,392.0C376.7,391.7 378.1,394.2 379.8,394.2C381.6,394.1 382.9,392.5 386.0,391.5C389.1,390.5 393.7,388.7 398.4,388.0C403.1,387.2 408.7,386.9 414.3,387.1C419.9,387.2 426.7,388.0 432.0,388.8C437.3,389.7 442.7,390.0 446.2,392.4C449.7,394.7 450.6,399.2 453.3,403.0C455.9,406.8 459.6,411.0 462.1,415.4C464.6,419.8 466.7,424.8 468.3,429.6C469.9,434.3 471.0,439.0 471.9,443.7C472.7,448.4 473.2,452.9 473.6,457.9C474.1,462.9 474.4,471.2 474.5,473.8Z"/>
<path fill="#00ff00" d="M571.5,473.8C572.4,472.0 575.2,466.7 576.8,463.2C578.4,459.6 580.4,456.7 581.2,452.6C582.1,448.4 581.8,443.1 582.1,438.4C582.4,433.7 582.0,428.7 583.0,424.2C584.0,419.8 586.3,415.7 588.3,411.9C590.4,408.0 592.7,404.5 595.4,401.2C598.1,398.0 601.3,394.6 604.2,392.4C607.2,390.2 608.7,389.0 613.1,388.0C617.5,386.9 624.3,386.0 630.8,386.2C637.3,386.3 646.1,387.5 652.0,388.8C657.9,390.2 662.4,391.5 666.2,394.2C670.0,396.8 672.4,400.9 675.0,404.8C677.7,408.6 680.2,412.7 682.1,417.2C684.0,421.6 685.2,426.3 686.5,431.3C687.9,436.3 689.5,442.5 690.1,447.3C690.7,452.0 690.2,455.2 690.1,459.6C689.9,464.1 689.4,471.4 689.2,473.8Z"/>
<path fill="#80ff00" d="M207.9,399.1C205.2,399.3 200.8,399.6 197.3,400.4C193.7,401.2 189.6,402.3 186.6,403.9C183.7,405.5 181.5,407.7 179.6,410.1C177.6,412.4 176.2,415.1 175.1,418.1C174.1,421.0 173.7,424.4 173.4,427.8C173.0,431.2 172.9,434.9 173.0,438.4C173.1,441.9 173.2,446.1 173.9,449.0C174.5,452.0 175.4,454.0 176.9,456.1C178.4,458.2 180.6,460.2 183.1,461.4C185.6,462.7 189.0,463.0 191.9,463.5C194.9,464.1 198.1,464.1 200.8,464.6C203.5,465.1 205.4,465.7 207.9,466.4C210.4,467.0 213.2,468.4 215.8,468.5C218.5,468.6 220.4,467.6 223.8,466.7C227.2,465.8 232.7,464.4 236.2,463.2C239.7,462.0 242.5,461.1 245.0,459.6C247.6,458.2 249.8,456.4 251.2,454.3C252.7,452.3 253.5,449.9 253.9,447.3C254.2,444.6 254.0,441.4 253.4,438.4C252.8,435.5 251.7,432.5 250.4,429.6C249.0,426.6 247.1,423.7 245.0,420.7C243.0,417.8 240.6,414.5 238.0,411.9C235.3,409.2 232.1,406.6 229.1,404.8C226.2,402.9 222.9,401.8 220.3,400.9C217.6,400.0 215.3,399.8 213.2,399.5C211.1,399.2 210.5,399.0 207.9,399.1Z"/>
<path fill="#80ff00" d="M410.8,397.7C407.3,397.8 403.4,398.4 400.2,399.5C396.9,400.5 394.0,402.0 391.3,403.9C388.7,405.8 386.2,408.2 384.2,411.0C382.3,413.8 380.9,417.0 379.8,420.7C378.8,424.4 378.2,429.0 378.1,433.1C377.9,437.2 378.1,441.9 378.9,445.5C379.8,449.0 381.3,451.7 383.4,454.3C385.4,457.0 388.5,459.5 391.3,461.4C394.1,463.3 396.9,464.8 400.2,465.8C403.4,466.9 407.0,467.3 410.8,467.6C414.6,468.0 419.1,468.0 423.2,468.0C427.3,468.0 431.7,468.1 435.6,467.6C439.4,467.1 442.9,466.3 446.2,465.0C449.4,463.6 452.7,461.7 455.0,459.6C457.4,457.6 459.2,455.5 460.4,452.6C461.5,449.6 462.4,445.5 462.1,441.9C461.8,438.4 460.1,434.6 458.6,431.3C457.1,428.1 455.0,425.1 453.3,422.5C451.5,419.8 450.0,417.9 448.0,415.4C445.9,412.9 443.5,409.6 440.9,407.4C438.2,405.2 435.3,403.6 432.0,402.1C428.8,400.6 425.0,399.3 421.4,398.6C417.9,397.8 414.3,397.6 410.8,397.7Z"/>
<path fill="#80ff00" d="M636.1,397.7C632.6,397.7 629.0,397.7 625.5,398.6C621.9,399.5 618.0,401.1 614.9,403.0C611.8,404.9 609.4,407.1 606.9,410.1C604.4,413.0 601.7,416.9 599.8,420.7C598.0,424.5 596.7,429.3 595.9,433.1C595.2,436.9 595.0,440.5 595.4,443.7C595.8,447.0 596.6,449.9 598.1,452.6C599.5,455.2 601.7,458.2 604.2,459.6C606.8,461.1 610.1,460.8 613.1,461.4C616.0,462.0 619.0,462.3 621.9,463.2C624.9,464.1 628.1,465.8 630.8,466.7C633.5,467.6 635.2,468.3 637.9,468.5C640.5,468.6 643.5,468.2 646.7,467.6C650.0,467.0 653.8,466.1 657.3,465.0C660.9,463.8 665.0,462.3 668.0,460.5C670.9,458.8 673.3,456.8 675.0,454.3C676.8,451.8 677.8,448.7 678.2,445.5C678.7,442.2 678.2,438.1 677.7,434.9C677.2,431.6 676.2,429.0 675.0,426.0C673.9,423.1 672.4,420.0 670.6,417.2C668.8,414.4 666.8,411.7 664.4,409.2C662.1,406.7 659.4,403.9 656.5,402.1C653.5,400.4 650.1,399.3 646.7,398.6C643.3,397.8 639.6,397.7 636.1,397.7Z"/>
<path fill="#c0ff00" d="M200.8,410.1C197.8,410.7 195.8,411.9 193.7,413.6C191.7,415.4 189.7,418.1 188.4,420.7C187.1,423.4 186.3,426.3 185.8,429.6C185.2,432.8 184.7,437.2 184.9,440.2C185.0,443.1 185.5,445.0 186.6,447.3C187.8,449.5 189.6,451.7 191.9,453.5C194.3,455.2 197.8,456.7 200.8,457.9C203.7,459.1 206.7,459.9 209.6,460.5C212.6,461.2 215.5,461.8 218.5,461.8C221.4,461.8 224.7,461.5 227.3,460.5C230.0,459.6 232.5,458.0 234.4,456.1C236.3,454.2 237.9,451.4 238.8,449.0C239.8,446.7 240.2,444.6 240.1,441.9C239.9,439.3 239.1,436.0 238.0,433.1C236.9,430.1 235.3,426.9 233.5,424.2C231.8,421.6 229.6,419.1 227.3,417.2C225.1,415.3 222.9,413.9 220.3,412.7C217.6,411.6 214.7,410.5 211.4,410.1C208.2,409.6 203.7,409.5 200.8,410.1Z"/>
<path fill="#c0ff00" d="M410.8,409.2C408.1,409.8 404.6,411.3 401.9,412.7C399.3,414.2 396.8,415.8 394.9,418.1C392.9,420.3 391.4,423.2 390.4,426.0C389.5,428.8 389.2,431.9 389.2,434.9C389.2,437.8 389.5,441.1 390.4,443.7C391.4,446.4 392.9,448.6 394.9,450.8C396.8,453.0 399.3,455.4 401.9,457.0C404.6,458.6 407.6,459.6 410.8,460.5C414.0,461.4 417.9,461.9 421.4,462.3C425.0,462.7 428.8,463.3 432.0,462.8C435.3,462.4 438.5,461.2 440.9,459.6C443.2,458.1 445.0,455.8 446.2,453.5C447.4,451.1 448.0,448.3 448.0,445.5C448.0,442.7 447.2,439.4 446.2,436.6C445.2,433.8 443.2,431.0 441.8,428.7C440.3,426.3 439.0,424.7 437.3,422.5C435.7,420.3 434.1,417.3 432.0,415.4C430.0,413.5 427.3,412.0 425.0,411.0C422.6,409.9 420.2,409.5 417.9,409.2C415.5,408.9 413.5,408.6 410.8,409.2Z"/>
<path fill="#c0ff00" d="M637.9,409.2C635.8,409.3 633.2,408.9 630.8,410.1C628.4,411.3 626.1,414.4 623.7,416.3C621.4,418.2 618.8,419.8 616.6,421.6C614.4,423.4 611.9,424.7 610.4,426.9C609.0,429.1 608.3,432.2 608.1,434.9C608.0,437.5 608.7,440.3 609.6,442.8C610.4,445.3 611.3,447.7 613.1,449.9C614.9,452.1 617.5,454.3 620.2,456.1C622.8,457.9 626.1,459.5 629.0,460.5C632.0,461.6 634.6,462.4 637.9,462.3C641.1,462.2 645.3,460.8 648.5,459.6C651.7,458.5 655.0,457.1 657.3,455.2C659.6,453.3 661.4,450.6 662.3,448.1C663.2,445.6 663.2,442.7 663.0,440.2C662.8,437.7 661.8,435.5 660.9,433.1C659.9,430.7 658.5,428.4 657.3,426.0C656.2,423.7 655.3,421.2 653.8,418.9C652.3,416.7 650.3,414.3 648.5,412.7C646.7,411.2 645.0,410.3 643.2,409.7C641.4,409.1 639.9,409.1 637.9,409.2Z"/>
<path fill="#ffff00" d="M207.9,422.1C206.1,422.4 204.0,423.0 202.6,424.2C201.2,425.5 200.0,427.5 199.4,429.6C198.7,431.6 198.6,434.6 198.7,436.6C198.8,438.7 199.1,440.2 199.9,441.9C200.7,443.7 202.1,445.6 203.5,447.3C204.8,448.9 206.0,450.4 207.9,451.7C209.8,452.9 212.9,454.4 215.0,454.7C217.0,455.0 218.6,454.5 220.3,453.5C221.9,452.4 223.7,450.1 224.7,448.1C225.7,446.2 226.0,444.0 226.1,441.9C226.2,439.9 225.9,437.7 225.2,435.8C224.5,433.8 223.3,432.1 222.0,430.4C220.8,428.8 219.1,427.0 217.6,425.7C216.1,424.3 214.8,423.1 213.2,422.5C211.6,421.9 209.6,421.8 207.9,422.1Z"/>
<path fill="#ffff00" d="M414.3,421.1C412.3,421.2 410.1,422.1 408.1,423.4C406.2,424.6 404.2,426.8 402.8,428.7C401.5,430.6 400.5,432.7 400.2,434.9C399.9,437.1 400.3,439.7 401.1,441.9C401.8,444.2 403.1,446.4 404.6,448.1C406.1,449.9 408.0,451.6 409.9,452.6C411.8,453.5 414.0,454.1 416.1,454.0C418.2,453.8 420.5,452.8 422.3,451.7C424.1,450.6 425.8,449.0 426.7,447.3C427.7,445.5 428.1,443.4 428.1,441.1C428.1,438.7 427.4,435.5 426.7,433.1C426.0,430.7 425.1,428.7 424.1,426.9C423.0,425.1 422.2,423.5 420.5,422.5C418.9,421.5 416.4,420.9 414.3,421.1Z"/>
<path fill="#ffff00" d="M637.0,423.9C635.8,424.4 633.7,426.0 631.7,427.4C629.6,428.8 626.4,430.5 624.6,432.2C622.8,433.9 621.5,435.6 621.1,437.5C620.6,439.4 621.2,441.8 621.9,443.7C622.7,445.6 623.9,447.4 625.5,449.0C627.1,450.6 629.5,452.6 631.7,453.5C633.9,454.3 636.8,454.6 638.8,454.0C640.7,453.4 642.1,451.8 643.2,449.9C644.3,448.1 645.1,445.3 645.3,442.8C645.5,440.3 645.2,437.4 644.6,434.9C644.0,432.4 642.7,429.6 641.8,427.8C640.8,426.0 639.6,424.9 638.8,424.2C638.0,423.6 638.2,423.4 637.0,423.9Z"/>
<path fill="#00ffc0" d="M133.5,404.8C134.1,405.1 135.5,404.8 136.7,406.5C137.9,408.3 139.1,411.6 140.6,415.4C142.2,419.2 144.5,425.4 145.9,429.6C147.4,433.7 149.0,436.6 149.5,440.2C149.9,443.7 149.8,447.8 148.6,450.8C147.4,453.7 144.4,455.8 142.4,457.9C140.4,459.9 138.2,462.0 136.7,463.2C135.3,464.4 134.1,464.7 133.5,465.0Z"/>
<path fill="#00ffc0" d="M265.0,398.6C266.1,397.4 269.9,398.9 273.0,399.5C276.1,400.1 280.4,400.9 283.6,402.1C286.9,403.3 290.3,404.8 292.5,406.5C294.7,408.3 295.1,411.3 296.9,412.7C298.7,414.2 300.9,414.2 303.1,415.0C305.3,415.8 307.2,417.8 310.2,417.5C313.1,417.3 318.1,415.5 320.8,413.6C323.5,411.8 323.2,408.3 326.1,406.5C329.1,404.8 334.1,404.0 338.5,403.0C342.9,402.0 350.1,398.9 352.7,400.4C355.2,401.8 352.9,407.0 353.5,411.9C354.1,416.7 355.5,423.7 356.2,429.6C356.9,435.5 358.3,442.2 358.0,447.3C357.7,452.3 356.2,456.4 354.4,459.6C352.7,462.9 351.5,465.4 347.3,466.7C343.2,468.1 335.5,467.9 329.6,467.6C323.7,467.3 317.8,465.7 311.9,465.0C306.0,464.2 299.3,464.4 294.2,463.2C289.2,462.0 285.1,460.5 281.9,457.9C278.6,455.2 276.3,451.4 274.8,447.3C273.3,443.1 273.5,438.4 273.0,433.1C272.6,427.8 273.2,419.8 272.1,415.4C271.1,411.0 268.0,409.4 266.8,406.5C265.6,403.7 264.0,399.8 265.0,398.6Z"/>
<path fill="#00ffc0" d="M484.8,404.8C485.2,403.3 488.6,400.9 491.9,401.2C495.1,401.5 500.7,404.9 504.2,406.5C507.8,408.2 510.6,409.1 513.1,411.0C515.6,412.9 517.4,416.7 519.3,418.1C521.2,419.4 522.7,419.9 524.6,419.3C526.5,418.7 528.6,416.2 530.8,414.5C533.0,412.8 534.9,410.7 537.9,409.2C540.8,407.7 545.0,406.7 548.5,405.7C552.0,404.6 555.6,403.2 559.1,403.0C562.7,402.9 566.8,405.5 569.7,404.8C572.7,404.0 575.5,399.0 576.8,398.6C578.1,398.1 578.3,400.5 577.7,402.1C577.1,403.7 574.5,406.1 573.3,408.3C572.1,410.5 571.4,412.4 570.6,415.4C569.9,418.3 569.0,422.2 568.8,426.0C568.7,429.9 569.9,434.6 569.7,438.4C569.6,442.2 569.4,445.8 568.0,449.0C566.5,452.3 563.5,455.2 560.9,457.9C558.2,460.5 555.9,463.3 552.0,465.0C548.2,466.6 542.9,467.3 537.9,467.6C532.9,467.9 527.3,467.5 521.9,466.7C516.6,466.0 510.7,465.0 506.0,463.2C501.3,461.4 496.9,458.8 493.6,456.1C490.4,453.5 488.3,450.5 486.5,447.3C484.8,444.0 483.6,440.5 483.0,436.6C482.4,432.8 482.6,428.1 483.0,424.2C483.5,420.4 484.6,416.0 485.7,413.6C486.7,411.3 489.4,411.6 489.2,410.1C489.1,408.6 484.3,406.3 484.8,404.8Z"/>
<path fill="#00ffc0" d="M694.2,401.2C695.0,400.1 697.2,399.7 699.6,399.8C701.9,400.0 705.5,401.3 708.4,402.1C711.4,402.9 714.6,403.5 717.3,404.8C719.9,406.1 722.3,408.5 724.3,410.1C726.4,411.7 727.9,413.3 729.6,414.5C731.4,415.7 733.2,417.0 735.0,417.2C736.7,417.3 738.5,416.4 740.3,415.4C742.0,414.4 743.5,412.4 745.6,411.0C747.6,409.5 750.3,407.9 752.7,406.5C755.0,405.2 756.8,404.0 759.7,403.0C762.7,402.1 768.6,390.6 770.4,400.9C772.1,411.2 772.7,453.7 770.4,465.0C768.0,476.2 761.5,467.5 756.2,468.1C750.9,468.8 744.4,469.3 738.5,469.0C732.6,468.8 725.8,468.0 720.8,466.7C715.8,465.5 711.4,463.5 708.4,461.4C705.5,459.4 704.3,456.1 703.1,454.3C701.9,452.6 701.9,453.2 701.3,450.8C700.7,448.4 700.3,444.6 699.6,440.2C698.8,435.8 697.6,429.9 696.9,424.2C696.2,418.6 695.6,410.4 695.1,406.5C694.7,402.7 693.5,402.4 694.2,401.2Z"/>
<path fill="#00ffff" d="M338.5,411.0C337.6,410.4 335.3,411.0 333.2,411.9C331.1,412.7 328.8,414.2 326.1,416.3C323.5,418.3 321.1,423.4 317.3,424.2C313.4,425.1 306.9,421.4 303.1,421.6C299.3,421.7 296.9,423.2 294.2,425.1C291.6,427.1 288.7,430.3 287.2,433.1C285.6,435.9 285.2,439.3 285.0,441.9C284.9,444.6 285.0,447.0 286.3,449.0C287.5,451.1 290.0,452.7 292.5,454.3C295.0,456.0 298.1,457.7 301.3,458.8C304.6,459.8 308.1,460.0 311.9,460.5C315.8,461.0 321.7,462.2 324.3,461.8C327.0,461.3 327.1,459.7 327.9,457.9C328.6,456.0 328.2,453.7 328.8,450.8C329.4,447.8 330.4,444.0 331.4,440.2C332.4,436.3 333.8,431.9 335.0,427.8C336.1,423.7 337.9,418.2 338.5,415.4C339.1,412.6 339.4,411.6 338.5,411.0Z"/>
<path fill="#00ffff" d="M548.5,411.5C546.4,410.9 543.8,411.7 541.4,412.7C539.1,413.8 537.0,416.0 534.3,418.1C531.7,420.1 527.8,424.0 525.5,425.1C523.1,426.3 522.2,425.9 520.2,425.1C518.1,424.4 515.5,421.0 513.1,420.7C510.7,420.4 508.2,422.0 506.0,423.4C503.8,424.7 501.3,426.8 499.8,428.7C498.3,430.6 497.5,432.7 497.2,434.9C496.9,437.1 497.3,439.6 498.1,441.9C498.8,444.3 500.1,446.8 501.6,449.0C503.1,451.2 504.7,453.5 506.9,455.2C509.1,457.0 512.1,458.5 514.9,459.6C517.7,460.8 520.8,461.4 523.7,462.3C526.7,463.2 529.9,464.8 532.6,465.0C535.2,465.1 537.6,464.7 539.6,463.2C541.7,461.7 543.5,458.8 545.0,456.1C546.4,453.5 547.3,450.5 548.5,447.3C549.7,444.0 551.2,440.2 552.0,436.6C552.9,433.1 553.5,429.4 553.8,426.0C554.1,422.6 554.7,418.7 553.8,416.3C552.9,413.9 550.6,412.1 548.5,411.5Z"/>
<path fill="#00ffff" d="M710.2,408.3C710.9,407.3 713.1,408.2 715.5,409.2C717.8,410.2 721.7,412.7 724.3,414.5C727.0,416.3 729.1,418.5 731.4,419.8C733.8,421.2 735.8,422.2 738.5,422.5C741.2,422.8 744.4,421.0 747.3,421.6C750.3,422.2 753.5,424.4 756.2,426.0C758.8,427.6 760.9,430.0 763.3,431.3C765.6,432.7 769.2,429.6 770.4,434.0C771.5,438.4 771.5,453.3 770.4,457.9C769.2,462.4 765.6,460.4 763.3,461.4C760.9,462.4 759.1,463.8 756.2,464.1C753.2,464.4 749.1,463.8 745.6,463.2C742.0,462.6 738.2,461.7 735.0,460.5C731.7,459.4 728.8,458.0 726.1,456.1C723.5,454.2 720.9,452.0 719.0,449.0C717.1,446.1 715.6,442.2 714.6,438.4C713.6,434.6 713.4,429.9 712.8,426.0C712.2,422.2 711.5,418.3 711.1,415.4C710.6,412.4 709.4,409.4 710.2,408.3Z"/>
<path fill="#00a0ff" d="M301.3,431.0C300.2,431.5 298.3,433.3 297.4,434.9C296.5,436.4 296.0,438.4 296.0,440.2C296.1,441.9 296.9,443.7 297.8,445.5C298.7,447.3 299.9,449.2 301.3,450.8C302.8,452.4 304.6,454.2 306.6,455.2C308.7,456.3 311.5,456.8 313.7,457.0C315.9,457.2 319.0,457.4 319.9,456.6C320.9,455.9 320.0,454.0 319.4,452.6C318.8,451.2 317.2,449.5 316.4,448.1C315.6,446.8 314.4,445.6 314.6,444.6C314.8,443.6 317.5,443.3 317.8,441.9C318.1,440.6 317.3,437.8 316.4,436.6C315.4,435.5 313.6,435.7 311.9,435.2C310.3,434.8 308.0,434.6 306.6,434.0C305.3,433.4 304.9,432.2 304.0,431.7C303.1,431.2 302.4,430.4 301.3,431.0Z"/>
<path fill="#00a0ff" d="M514.9,430.1C513.8,430.7 512.1,432.3 511.3,434.0C510.5,435.7 510.1,438.3 510.1,440.2C510.1,442.1 510.7,443.7 511.3,445.5C512.0,447.3 512.5,449.5 514.0,450.8C515.5,452.1 518.1,452.4 520.2,453.5C522.2,454.5 524.5,456.3 526.4,457.0C528.3,457.7 530.5,458.9 531.7,457.9C532.9,456.8 533.2,453.2 533.5,450.8C533.7,448.4 533.9,445.9 533.5,443.7C533.0,441.5 532.1,438.8 530.8,437.5C529.5,436.2 527.3,436.5 525.5,435.8C523.7,435.0 521.5,434.0 520.2,433.1C518.8,432.2 518.4,430.9 517.5,430.4C516.6,429.9 515.9,429.5 514.9,430.1Z"/>
<path fill="#00a0ff" d="M730.5,425.1C729.4,426.0 727.7,429.1 727.0,431.3C726.3,433.5 725.8,436.0 726.1,438.4C726.4,440.8 727.6,443.3 728.8,445.5C729.9,447.7 731.6,450.1 733.2,451.7C734.8,453.3 736.1,454.2 738.5,455.2C740.9,456.2 744.8,457.0 747.3,457.5C749.9,458.1 752.4,459.5 753.5,458.4C754.7,457.3 754.2,453.5 754.4,450.8C754.6,448.1 755.2,444.7 754.8,441.9C754.3,439.1 753.3,435.9 751.8,434.0C750.2,432.1 747.8,431.3 745.6,430.4C743.4,429.6 740.4,429.4 738.5,428.7C736.6,427.9 735.4,426.6 734.1,426.0C732.7,425.4 731.7,424.2 730.5,425.1Z"/>
<path fill="#00ff00" d="M310.2,392.0C310.8,391.9 309.7,395.0 311.1,395.9C312.4,396.9 316.8,395.9 318.1,397.7C319.5,399.5 319.5,404.2 319.0,406.5C318.6,408.9 317.0,410.5 315.5,411.9C314.0,413.2 311.9,414.7 310.2,414.5C308.4,414.4 306.8,412.0 304.9,411.0C302.9,409.9 300.0,409.5 298.7,408.3C297.3,407.1 296.5,405.2 296.9,403.9C297.3,402.6 299.6,401.5 301.3,400.4C303.1,399.2 306.0,398.2 307.5,396.8C309.0,395.4 309.6,392.2 310.2,392.0Z"/>
<path fill="#00ff00" d="M498.1,395.0C499.1,394.5 502.6,394.2 506.0,394.2C509.4,394.2 514.6,394.5 518.4,395.0C522.2,395.6 527.0,396.1 529.0,397.7C531.1,399.3 530.9,402.4 530.8,404.8C530.6,407.1 529.3,410.3 528.1,411.9C527.0,413.4 524.9,414.4 523.7,414.0C522.5,413.5 522.5,410.7 521.1,409.2C519.6,407.7 517.4,406.1 514.9,404.8C512.4,403.5 508.5,402.4 506.0,401.2C503.5,400.1 501.2,398.7 499.8,397.7C498.5,396.7 497.0,395.6 498.1,395.0Z"/>
<path fill="#00ff00" d="M729.6,397.7C731.2,396.8 734.7,396.4 736.7,396.8C738.8,397.3 741.0,398.7 742.0,400.4C743.1,402.0 743.5,404.6 742.9,406.5C742.3,408.5 740.1,411.0 738.5,411.9C736.9,412.7 734.8,412.4 733.2,411.9C731.6,411.3 729.7,409.9 728.8,408.3C727.8,406.7 727.4,403.9 727.5,402.1C727.7,400.4 728.1,398.6 729.6,397.7Z"/>
</g>
<g shape-rendering="crispEdges" fill="#000">
<rect x="135" y="156" width="634" height="2"/>
<rect x="135" y="472" width="634" height="2"/>
<rect x="135" y="156" width="2" height="318"/>
<rect x="767" y="156" width="2" height="318"/>
<rect x="147" y="158" width="1" height="4"/>
<rect x="147" y="469" width="1" height="3"/>
<rect x="159" y="158" width="1" height="4"/>
<rect x="159" y="469" width="1" height="3"/>
<rect x="172" y="158" width="1" height="4"/>
<rect x="172" y="469" width="1" height="3"/>
<rect x="185" y="158" width="1" height="4"/>
<rect x="185" y="469" width="1" height="3"/>
<rect x="197" y="158" width="2" height="9"/>
<rect x="197" y="463" width="2" height="9"/>
<rect x="210" y="158" width="1" height="4"/>
<rect x="210" y="469" width="1" height="3"/>
<rect x="223" y="158" width="1" height="4"/>
<rect x="223" y="469" width="1" height="3"/>
<rect x="236" y="158" width="1" height="4"/>
<rect x="236" y="469" width="1" height="3"/>
<rect x="248" y="158" width="1" height="4"/>
<rect x="248" y="469" width="1" height="3"/>
<rect x="260" y="158" width="2" height="9"/>
<rect x="260" y="463" width="2" height="9"/>
<rect x="274" y="158" width="1" height="4"/>
<rect x="274" y="469" width="1" height="3"/>
<rect x="287" y="158" width="1" height="4"/>
<rect x="287" y="469" width="1" height="3"/>
<rect x="299" y="158" width="1" height="4"/>
<rect x="299" y="469" width="1" height="3"/>
<rect x="312" y="158" width="1" height="4"/>
<rect x="312" y="469" width="1" height="3"/>
<rect x="324" y="158" width="2" height="9"/>
<rect x="324" y="463" width="2" height="9"/>
<rect x="337" y="158" width="1" height="4"/>
<rect x="337" y="469" width="1" height="3"/>
<rect x="350" y="158" width="1" height="4"/>
<rect x="350" y="469" width="1" height="3"/>
<rect x="363" y="158" width="1" height="4"/>
<rect x="363" y="469" width="1" height="3"/>
<rect x="376" y="158" width="1" height="4"/>
<rect x="376" y="469" width="1" height="3"/>
<rect x="387" y="158" width="2" height="9"/>
<rect x="387" y="463" width="2" height="9"/>
<rect x="401" y="158" width="1" height="4"/>
<rect x="401" y="469" width="1" height="3"/>
<rect x="414" y="158" width="1" height="4"/>
<rect x="414" y="469" width="1" height="3"/>
<rect x="427" y="158" width="1" height="4"/>
<rect x="427" y="469" width="1" height="3"/>
<rect x="439" y="158" width="1" height="4"/>
<rect x="439" y="469" width="1" height="3"/>
<rect x="451" y="158" width="2" height="9"/>
<rect x="451" y="463" width="2" height="9"/>
<rect x="465" y="158" width="1" height="4"/>
<rect x="465" y="469" width="1" height="3"/>
<rect x="477" y="158" width="1" height="4"/>
<rect x="477" y="469" width="1" height="3"/>
<rect x="490" y="158" width="1" height="4"/>
<rect x="490" y="469" width="1" height="3"/>
<rect x="503" y="158" width="1" height="4"/>
<rect x="503" y="469" width="1" height="3"/>
<rect x="515" y="158" width="2" height="9"/>
<rect x="515" y="463" width="2" height="9"/>
<rect x="528" y="158" width="1" height="4"/>
<rect x="528" y="469" width="1" height="3"/>
<rect x="541" y="158" width="1" height="4"/>
<rect x="541" y="469" width="1" height="3"/>
<rect x="554" y="158" width="1" height="4"/>
<rect x="554" y="469" width="1" height="3"/>
<rect x="566" y="158" width="1" height="4"/>
<rect x="566" y="469" width="1" height="3"/>
<rect x="578" y="158" width="2" height="9"/>
<rect x="578" y="463" width="2" height="9"/>
<rect x="592" y="158" width="1" height="4"/>
<rect x="592" y="469" width="1" height="3"/>
<rect x="605" y="158" width="1" height="4"/>
<rect x="605" y="469" width="1" height="3"/>
<rect x="617" y="158" width="1" height="4"/>
<rect x="617" y="469" width="1" height="3"/>
<rect x="630" y="158" width="1" height="4"/>
<rect x="630" y="469" width="1" height="3"/>
<rect x="642" y="158" width="2" height="9"/>
<rect x="642" y="463" width="2" height="9"/>
<rect x="656" y="158" width="1" height="4"/>
<rect x="656" y="469" width="1" height="3"/>
<rect x="668" y="158" width="1" height="4"/>
<rect x="668" y="469" width="1" height="3"/>
<rect x="681" y="158" width="1" height="4"/>
<rect x="681" y="469" width="1" height="3"/>
<rect x="694" y="158" width="1" height="4"/>
<rect x="694" y="469" width="1" height="3"/>
<rect x="705" y="158" width="2" height="9"/>
<rect x="705" y="463" width="2" height="9"/>
<rect x="719" y="158" width="1" height="4"/>
<rect x="719" y="469" width="1" height="3"/>
<rect x="732" y="158" width="1" height="4"/>
<rect x="732" y="469" width="1" height="3"/>
<rect x="745" y="158" width="1" height="4"/>
<rect x="745" y="469" width="1" height="3"/>
<rect x="757" y="158" width="1" height="4"/>
<rect x="757" y="469" width="1" height="3"/>
<rect x="137" y="454" width="4" height="1"/>
<rect x="764" y="454" width="3" height="1"/>
<rect x="137" y="434" width="4" height="1"/>
<rect x="764" y="434" width="3" height="1"/>
<rect x="137" y="414" width="4" height="1"/>
<rect x="764" y="414" width="3" height="1"/>
<rect x="137" y="393" width="8" height="2"/>
<rect x="759" y="393" width="8" height="2"/>
<rect x="137" y="374" width="4" height="1"/>
<rect x="764" y="374" width="3" height="1"/>
<rect x="137" y="355" width="4" height="1"/>
<rect x="764" y="355" width="3" height="1"/>
<rect x="137" y="335" width="4" height="1"/>
<rect x="764" y="335" width="3" height="1"/>
<rect x="137" y="314" width="8" height="2"/>
<rect x="759" y="314" width="8" height="2"/>
<rect x="137" y="295" width="4" height="1"/>
<rect x="764" y="295" width="3" height="1"/>
<rect x="137" y="275" width="4" height="1"/>
<rect x="764" y="275" width="3" height="1"/>
<rect x="137" y="255" width="4" height="1"/>
<rect x="764" y="255" width="3" height="1"/>
<rect x="137" y="234" width="8" height="2"/>
<rect x="759" y="234" width="8" height="2"/>
<rect x="137" y="216" width="4" height="1"/>
<rect x="764" y="216" width="3" height="1"/>
<rect x="137" y="196" width="4" height="1"/>
<rect x="764" y="196" width="3" height="1"/>
<rect x="137" y="176" width="4" height="1"/>
<rect x="764" y="176" width="3" height="1"/>
</g>
<text transform="translate(0 112.2) scale(1.0 1)" x="340.85 355.67 371.98 385.04 395.26 402.73 418.67 437.09 443.09 458.85 474.07 489.79 498.14 515.73 532.11 539.99 549.89" y="0" font-size="27" stroke="#fff" stroke-width="0.4">vertical velocity</text>
<text transform="translate(0 134.8) scale(1.12 1)" x="40.98 49.09 58.88 68.51 79.57 89.02 96.13 113.32" y="0" font-size="17" stroke="#000" stroke-width="0.55">(×1E4 m)</text>
<text transform="translate(0 517.9) scale(1.12 1)" x="614.55 622.67 632.45 642.08 653.14 662.59 669.70 686.89" y="0" font-size="17" stroke="#000" stroke-width="0.55">(×1E4 m)</text>
<text transform="translate(0 168.7) scale(1.0 1)" x="778.62 785.94 797.81 808.34 814.58 825.49 836.19 846.92 856.64 866.84 877.87 888.11" y="0" font-size="17">t=6.9552e+06</text>
<text transform="translate(0 547.0) scale(1.0 1)" x="377.45 393.12 405.74 419.02 432.32 446.70 456.03 470.55 476.05 489.77 504.04 512.39" y="0" font-size="23.5">X coordinate</text>
<text transform="translate(99.0 387.6) rotate(-90) scale(1.0 1)" x="-0.98 13.37 26.64 39.92 53.22 67.60 76.93 91.45 96.95 110.67 124.94 133.29" y="0" font-size="23.5">Z coordinate</text>
<text transform="translate(0 494.6) scale(1.18 1)" x="161.75" y="0" font-size="17.4" stroke="#000" stroke-width="0.55">1</text>
<text transform="translate(0 494.6) scale(1.18 1)" x="216.91" y="0" font-size="17.4" stroke="#000" stroke-width="0.55">2</text>
<text transform="translate(0 494.6) scale(1.18 1)" x="270.86" y="0" font-size="17.4" stroke="#000" stroke-width="0.55">3</text>
<text transform="translate(0 494.6) scale(1.18 1)" x="324.78" y="0" font-size="17.4" stroke="#000" stroke-width="0.55">4</text>
<text transform="translate(0 494.6) scale(1.18 1)" x="378.64" y="0" font-size="17.4" stroke="#000" stroke-width="0.55">5</text>
<text transform="translate(0 494.6) scale(1.18 1)" x="432.47" y="0" font-size="17.4" stroke="#000" stroke-width="0.55">6</text>
<text transform="translate(0 494.6) scale(1.18 1)" x="486.43" y="0" font-size="17.4" stroke="#000" stroke-width="0.55">7</text>
<text transform="translate(0 494.6) scale(1.18 1)" x="540.35" y="0" font-size="17.4" stroke="#000" stroke-width="0.55">8</text>
<text transform="translate(0 494.6) scale(1.18 1)" x="594.26" y="0" font-size="17.4" stroke="#000" stroke-width="0.55">9</text>
<text transform="translate(0 399.49999999999994) scale(1.18 1)" x="97.81" y="0" font-size="17.4" stroke="#000" stroke-width="0.55">2</text>
<text transform="translate(0 320.09999999999997) scale(1.18 1)" x="97.44" y="0" font-size="17.4" stroke="#000" stroke-width="0.55">4</text>
<text transform="translate(0 240.69999999999996) scale(1.18 1)" x="97.70" y="0" font-size="17.4" stroke="#000" stroke-width="0.55">6</text>
<g>
<rect x="783" y="246" width="20" height="228" fill="#000"/>
<rect x="785" y="462.83" width="16" height="9.47" fill="#4400aa"/>
<rect x="785" y="451.56" width="16" height="9.47" fill="#2200aa"/>
<rect x="785" y="440.29" width="16" height="9.47" fill="#0000aa"/>
<rect x="785" y="429.02" width="16" height="9.47" fill="#0000ff"/>
<rect x="785" y="417.75" width="16" height="9.47" fill="#0044ff"/>
<rect x="785" y="406.48" width="16" height="9.47" fill="#0066ff"/>
<rect x="785" y="395.21" width="16" height="9.47" fill="#00a0ff"/>
<rect x="785" y="383.94" width="16" height="9.47" fill="#00ffff"/>
<rect x="785" y="372.67" width="16" height="9.47" fill="#00ffc0"/>
<rect x="785" y="361.40" width="16" height="9.47" fill="#00ff80"/>
<rect x="785" y="350.13" width="16" height="9.47" fill="#00ff00"/>
<rect x="785" y="338.86" width="16" height="9.47" fill="#80ff00"/>
<rect x="785" y="327.59" width="16" height="9.47" fill="#c0ff00"/>
<rect x="785" y="316.32" width="16" height="9.47" fill="#ffff00"/>
<rect x="785" y="305.05" width="16" height="9.47" fill="#ffe000"/>
<rect x="785" y="293.78" width="16" height="9.47" fill="#ffaa00"/>
<rect x="785" y="282.51" width="16" height="9.47" fill="#ff7700"/>
<rect x="785" y="271.24" width="16" height="9.47" fill="#ff5500"/>
<rect x="785" y="259.97" width="16" height="9.47" fill="#ff2200"/>
<rect x="785" y="248.70" width="16" height="9.47" fill="#ff2020"/>
</g>
<path d="M783,247 L793.5,205.8 L803.2,247 Z" fill="#000"/><path d="M785.4,246 L793.5,213.5 L800.7,246 Z" fill="#ffaaaa"/>
<path d="M783,473 L793.4,515.6 L803.2,473 Z" fill="#000"/><path d="M785.2,472.7 L785.4,474.6 L793.4,507 L800.7,474.6 L800.9,472.7 Z" fill="#9a00aa"/>
<text transform="translate(0 467.2) scale(1.18 1)" x="687.25 697.30 705.37" y="0" font-size="17.4" stroke="#000" stroke-width="0.55">−18</text>
<text transform="translate(0 433.4) scale(1.18 1)" x="687.25 697.30 705.37" y="0" font-size="17.4" stroke="#000" stroke-width="0.55">−12</text>
<text transform="translate(0 399.6) scale(1.18 1)" x="687.25 697.35" y="0" font-size="17.4" stroke="#000" stroke-width="0.55">−6</text>
<text transform="translate(0 365.8) scale(1.18 1)" x="686.22" y="0" font-size="17.4" stroke="#000" stroke-width="0.55">0</text>
<text transform="translate(0 332.0) scale(1.18 1)" x="686.84" y="0" font-size="17.4" stroke="#000" stroke-width="0.55">6</text>
<text transform="translate(0 298.2) scale(1.18 1)" x="685.01 694.78" y="0" font-size="17.4" stroke="#000" stroke-width="0.55">12</text>
<text transform="translate(0 264.4) scale(1.18 1)" x="685.01 694.78" y="0" font-size="17.4" stroke="#000" stroke-width="0.55">18</text>
</svg></body></html>
